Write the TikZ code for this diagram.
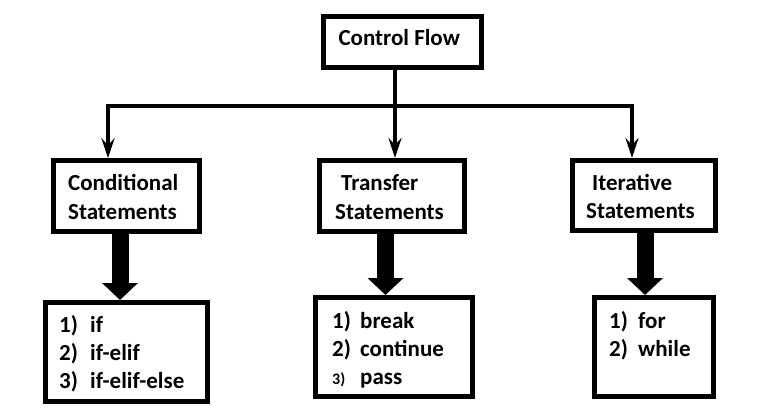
\documentclass[tikz,border=0pt]{standalone}
\usepackage{fontspec}
\setmainfont{Carlito}
\usetikzlibrary{arrows.meta}
\begin{document}
\begin{tikzpicture}[x=1pt,y=-1pt,
  box/.style={draw=black, line width=5pt, inner sep=0pt, fill=white},
  txt/.style={anchor=base west, inner sep=0pt, font=\fontsize{23}{28}\selectfont\bfseries},
  small/.style={anchor=base west, inner sep=0pt, font=\fontsize{16}{20}\selectfont\bfseries},
  conn/.style={draw=black, line width=4.5pt},
  arr/.style={conn, -{Stealth[length=20pt,width=13pt,inset=7pt]}},
  blk/.style={draw=black, line width=17pt, -{Triangle[length=17pt,width=35pt]}}
]
\useasboundingbox (0,0) rectangle (775,417);
% boxes
\node[box, minimum width=158.3pt, minimum height=50.7pt] (cf) at (402.35,42.2) {};
\node[box, minimum width=146pt, minimum height=70.7pt] (condbox) at (126.2,196.15) {};
\node[box, minimum width=145pt, minimum height=71pt] (transbox) at (392,196) {};
\node[box, minimum width=143pt, minimum height=70pt] (iterbox) at (644,195.5) {};
\node[box, minimum width=162.3pt, minimum height=99pt] (condlist) at (126.35,352) {};
\node[box, minimum width=157pt, minimum height=99pt] (translist) at (394,347) {};
\node[box, minimum width=119pt, minimum height=99pt] (iterlist) at (654,347) {};
% junction coordinates
\coordinate (j) at (395,106);
\coordinate (lb) at (108,106);
\coordinate (rb) at (632,106);
\coordinate (b1) at (120,0);
\coordinate (b2) at (385.5,0);
\coordinate (b3) at (645,0);
% connectors
\draw[conn] (cf.south -| j) -- (j);
\draw[arr] (j) -- (lb) -- (lb |- condbox.north);
\draw[arr] (j) -- (j |- transbox.north);
\draw[arr] (j) -- (rb) -- (rb |- iterbox.north);
\draw[blk] (condbox.south -| b1) -- (condlist.north -| b1);
\draw[blk] (transbox.south -| b2) -- (translist.north -| b2);
\draw[blk] (iterbox.south -| b3) -- (iterlist.north -| b3);
% texts
\node[txt] (tcf) at (338.3,46) {Control Flow};
\node[txt] (tc1) at (68,190.7) {Conditional};
\node[txt] (tc2) at (68,219) {Statements};
\node[txt] (tt1) at (341,190.7) {Transfer};
\node[txt] (tt2) at (335,219) {Statements};
\node[txt] (ti1) at (592,190.5) {Iterative};
\node[txt] (ti2) at (586,218.7) {Statements};
\node[txt] (c1) at (59,332.3) {\makebox[31pt][l]{1)}if};
\node[txt] (c2) at (59,360.3) {\makebox[31pt][l]{2)}if-elif};
\node[txt] (c3) at (59,388.3) {\makebox[31pt][l]{3)}if-elif-else};
\node[txt] (t1) at (332,328) {\makebox[28pt][l]{1)}break};
\node[txt] (t2) at (332,356) {\makebox[28pt][l]{2)}continue};
\node[small] (t3n) at (332,384) {3)};
\node[txt] (t3) at (360,384) {pass};
\node[txt] (i1) at (609,328) {\makebox[29pt][l]{1)}for};
\node[txt] (i2) at (609,356) {\makebox[29pt][l]{2)}while};
\end{tikzpicture}
\end{document}
